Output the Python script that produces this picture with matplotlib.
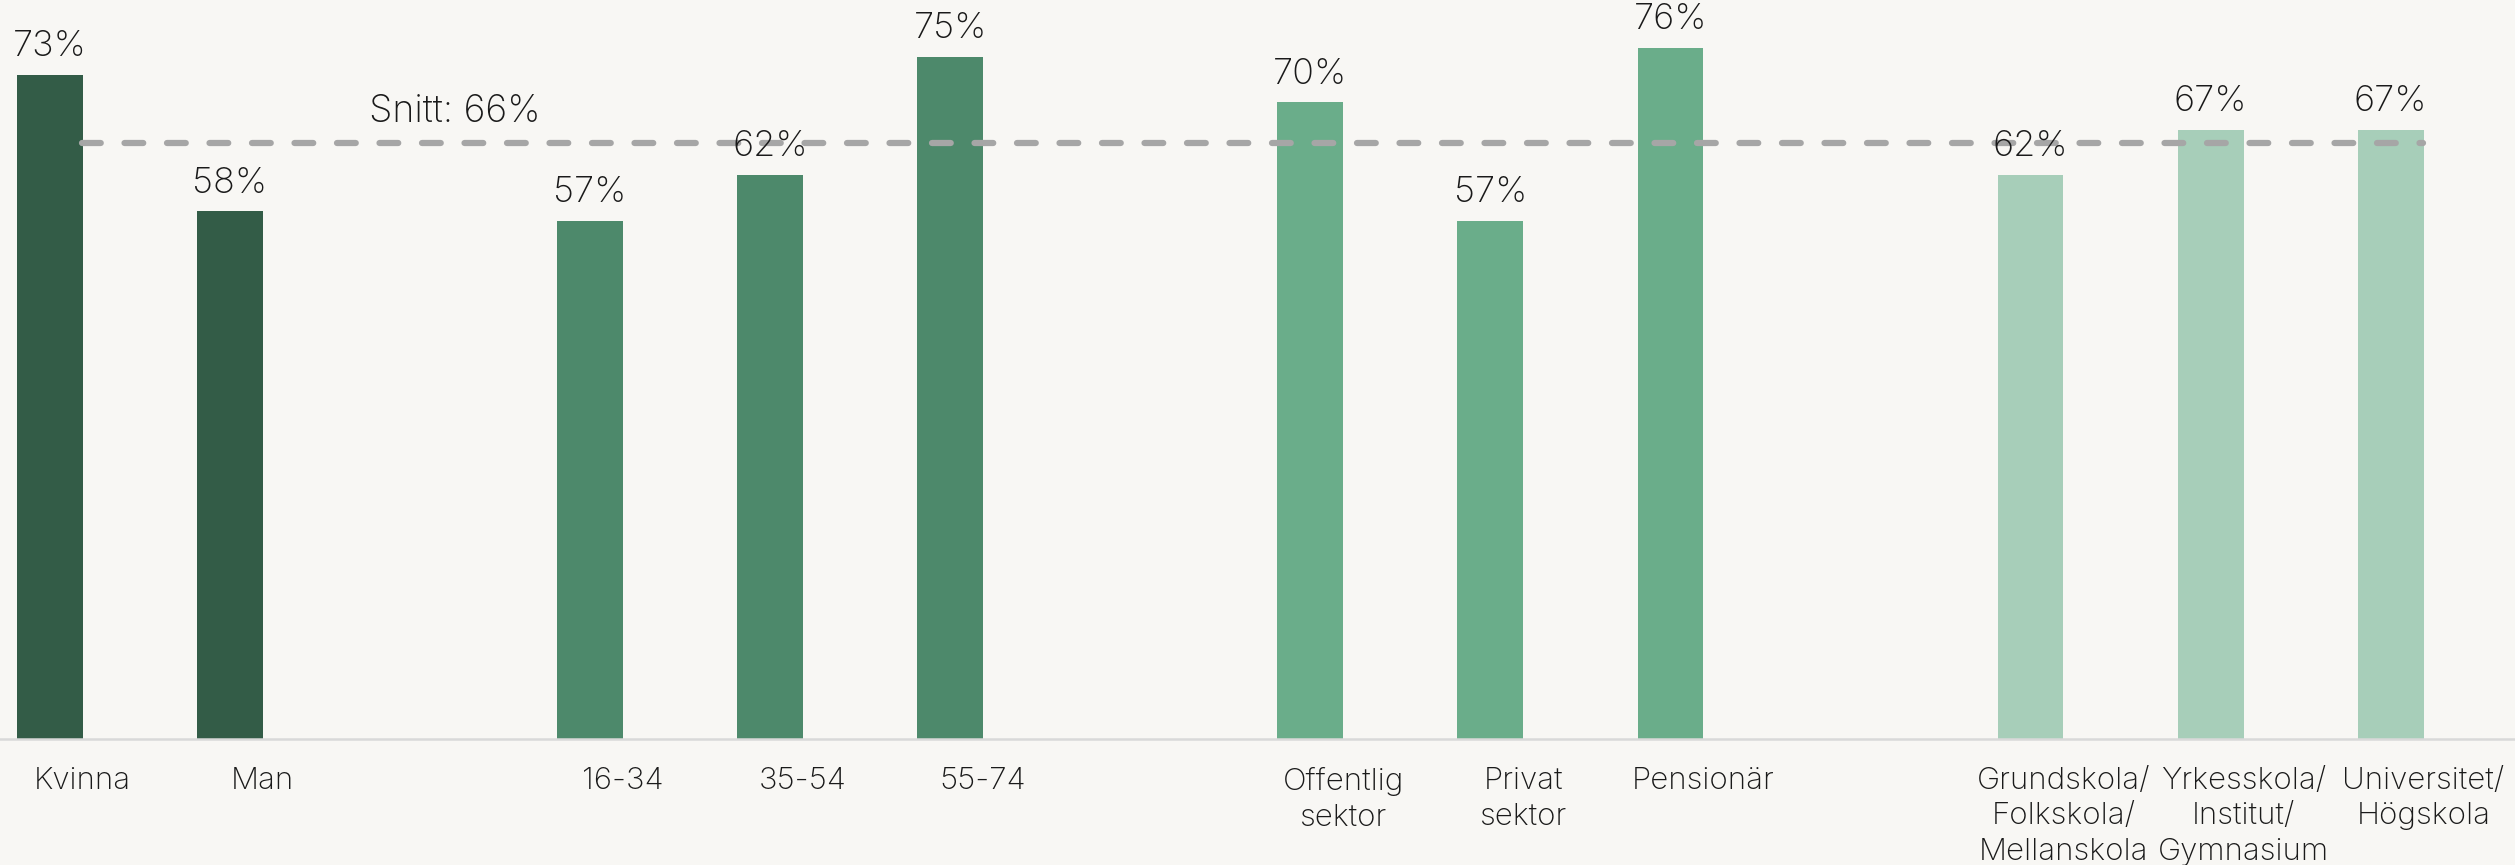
import matplotlib
matplotlib.use("Agg")
import matplotlib.pyplot as plt
import numpy as np

# data
kategorier = ["Kvinna", "Man",
              "16-34", "35-54", "55-74",
              "Offentlig\nsektor", "Privat\nsektor", "Pensionär",
              "Grundskola/\nFolkskola/\nMellanskola", "Yrkesskola/\nInstitut/\nGymnasium", "Universitet/\nHögskola"]
varden = [73, 58, 57, 62, 75, 70, 57, 76, 62, 67, 67]
grupper = [0, 0, 1, 1, 1, 2, 2, 2, 3, 3, 3]
farger = ["#335C47", "#4D896B", "#6AAD8A", "#A7CEB9"]
snitt = 65.5
snitt_text = "Snitt: 66%"

plt.rcParams["font.family"] = ["Inter", "DejaVu Sans"]
plt.rcParams["font.weight"] = "light"

bg = "#F8F7F4"
fig = plt.figure(figsize=(25.15, 8.65), dpi=100, facecolor=bg)
ax = fig.add_axes([0, 0.1457, 1, 0.8543], facecolor=bg)

# ett tomt steg mellan grupperna
x = np.arange(len(varden)) + np.array(grupper)
bredd = 0.365
ax.bar(x, varden, width=bredd, color=[farger[g] for g in grupper], zorder=2)

for xi, v in zip(x, varden):
    ax.annotate(f"{v}%", (xi, v), xytext=(0, 8.5), textcoords="offset points",
                ha="center", va="bottom", fontsize=26, color="#1a1a1a", zorder=4)

ax.plot([0.18, 13.18], [snitt, snitt], color="#A6A6A6", lw=4.5,
        linestyle=(0, (3.0, 3.8)), dash_capstyle="round", zorder=3)
ax.text(2.25, 67.9, snitt_text, ha="center", va="baseline", fontsize=27, color="#1a1a1a")

ax.set_xlim(-0.276, 13.69)
ax.set_ylim(0, 81.25)
ax.set_xticks(x + bredd / 2)
ax.set_xticklabels(kategorier, fontsize=22.5, color="#1a1a1a", linespacing=1.34)
ax.tick_params(axis="x", length=0, pad=20)
ax.set_yticks([])
for s in ["top", "left", "right"]:
    ax.spines[s].set_visible(False)
ax.spines["bottom"].set_color("#D9D9D9")
ax.spines["bottom"].set_linewidth(1.8)

plt.savefig("out.png", dpi=100, facecolor=bg)
